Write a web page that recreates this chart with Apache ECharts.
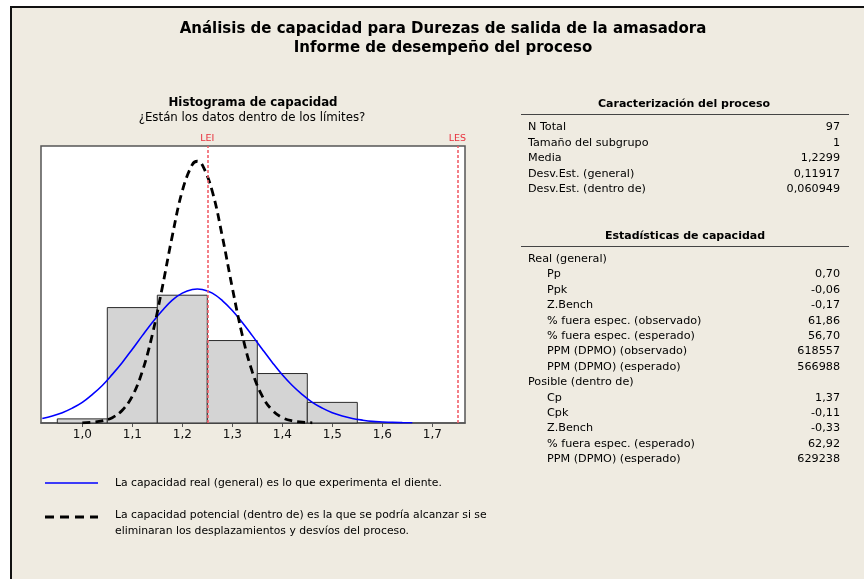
<!DOCTYPE html>
<html>
<head>
<meta charset="utf-8">
<script src="https://cdn.jsdelivr.net/npm/echarts@6/dist/echarts.min.js"></script>
<style>
  html, body { margin: 0; padding: 0; background: #fff; }
  #main { width: 864px; height: 579px; }
</style>
</head>
<body>
<div id="main"></div>
<script>
// histogram bins (start of each bin, width 0.1) and counts
var binStart = [0.95, 1.05, 1.15, 1.25, 1.35, 1.45];
var binCount = [1, 28, 31, 20, 12, 5];
var binWidth = 0.1;

// spec limits
var LEI = 1.25;
var LES = 1.75;

// overall (general) normal curve (count scale)
var generalX = [0.92, 0.94, 0.96, 0.98, 1.00, 1.02, 1.04, 1.06, 1.08, 1.10, 1.12, 1.14, 1.16, 1.18, 1.20, 1.22, 1.23, 1.24, 1.26, 1.28, 1.30, 1.32, 1.34, 1.36, 1.38, 1.40, 1.42, 1.44, 1.46, 1.48, 1.50, 1.52, 1.54, 1.56, 1.58, 1.60, 1.62, 1.64, 1.66];
var generalY = [1.1, 1.7, 2.5, 3.6, 5.0, 6.9, 9.1, 11.8, 14.7, 17.9, 21.2, 24.4, 27.3, 29.8, 31.5, 32.4, 32.5, 32.4, 31.5, 29.7, 27.3, 24.4, 21.2, 17.9, 14.7, 11.7, 9.1, 6.9, 5.0, 3.6, 2.5, 1.7, 1.1, 0.7, 0.4, 0.26, 0.15, 0.09, 0.05];

// within normal curve
var withinX = [1.00, 1.02, 1.04, 1.06, 1.08, 1.10, 1.12, 1.14, 1.16, 1.18, 1.20, 1.22, 1.23, 1.24, 1.26, 1.28, 1.30, 1.32, 1.34, 1.36, 1.38, 1.40, 1.42, 1.44, 1.46];
var withinY = [0.05, 0.2, 0.5, 1.3, 3.1, 6.5, 12.5, 21.4, 32.9, 45.4, 56.3, 62.7, 63.5, 62.6, 56.2, 45.3, 32.8, 21.3, 12.4, 6.5, 3.1, 1.3, 0.5, 0.2, 0.05];

var xTicks = [1.0, 1.1, 1.2, 1.3, 1.4, 1.5, 1.6, 1.7];

// tables
var caracLabels = ['N Total', 'Tamaño del subgrupo', 'Media', 'Desv.Est. (general)', 'Desv.Est. (dentro de)'];
var caracValues = ['97', '1', '1,2299', '0,11917', '0,060949'];

var capLabels = ['Real (general)', 'Pp', 'Ppk', 'Z.Bench', '% fuera espec. (observado)', '% fuera espec. (esperado)', 'PPM (DPMO) (observado)', 'PPM (DPMO) (esperado)',
                 'Posible (dentro de)', 'Cp', 'Cpk', 'Z.Bench', '% fuera espec. (esperado)', 'PPM (DPMO) (esperado)'];
var capValues = ['', '0,70', '-0,06', '-0,17', '61,86', '56,70', '618557', '566988',
                 '', '1,37', '-0,11', '-0,33', '62,92', '629238'];

var legendTexts = [
  ['La capacidad real (general) es lo que experimenta el diente.'],
  ['La capacidad potencial (dentro de) es la que se podría alcanzar si se', 'eliminaran los desplazamientos y desvíos del proceso.']
];

var FONT = '"DejaVu Sans", Verdana, sans-serif';
var BG = '#EFEBE1';

function pairs(xs, ys) {
  var out = [];
  for (var i = 0; i < xs.length; i++) out.push([xs[i], ys[i]]);
  return out;
}

function txt(x, y, text, size, bold, align) {
  return {
    type: 'text',
    style: {
      x: x, y: y, text: text,
      font: (bold ? 'bold ' : '') + size + 'px ' + FONT,
      fill: '#000',
      textAlign: align || 'left',
      textVerticalAlign: 'middle'
    }
  };
}

var graphics = [
  { type: 'rect', shape: { x: 10, y: 6, width: 854, height: 573 }, style: { fill: BG }, z: -10 },
  { type: 'rect', shape: { x: 10, y: 6, width: 2, height: 573 }, style: { fill: '#111' }, z: -9 },
  { type: 'rect', shape: { x: 10, y: 6, width: 854, height: 2 }, style: { fill: '#111' }, z: -9 },
  txt(443, 29, 'Análisis de capacidad para Durezas de salida de la amasadora', 15, true, 'center'),
  txt(443, 48, 'Informe de desempeño del proceso', 15, true, 'center'),
  txt(253, 103, 'Histograma de capacidad', 11.8, true, 'center'),
  txt(252, 118, '¿Están los datos dentro de los límites?', 11.8, false, 'center'),
  txt(684, 104, 'Caracterización del proceso', 11, true, 'center'),
  { type: 'line', shape: { x1: 521, y1: 114.5, x2: 849, y2: 114.5 }, style: { stroke: '#444', lineWidth: 1 } },
  txt(685, 236, 'Estadísticas de capacidad', 11, true, 'center'),
  { type: 'line', shape: { x1: 521, y1: 246.5, x2: 849, y2: 246.5 }, style: { stroke: '#444', lineWidth: 1 } },
  // legend keys
  { type: 'line', shape: { x1: 45, y1: 483, x2: 98, y2: 483 }, style: { stroke: '#0000FF', lineWidth: 1.5 } },
  { type: 'line', shape: { x1: 45, y1: 517, x2: 98, y2: 517 }, style: { stroke: '#000', lineWidth: 3, lineDash: [9, 6] } }
];

caracLabels.forEach(function (l, i) {
  var y = 127.5 + i * 15.4;
  graphics.push(txt(528, y, l, 11.2, false, 'left'));
  graphics.push(txt(840, y, caracValues[i], 11.2, false, 'right'));
});
capLabels.forEach(function (l, i) {
  var y = 259 + i * 15.4;
  var head = capValues[i] === '';
  graphics.push(txt(head ? 528 : 547, y, l, 11.2, false, 'left'));
  if (!head) graphics.push(txt(840, y, capValues[i], 11.2, false, 'right'));
});
graphics.push(txt(115, 483, legendTexts[0][0], 10.8, false, 'left'));
graphics.push(txt(115, 515, legendTexts[1][0], 10.8, false, 'left'));
graphics.push(txt(115, 531, legendTexts[1][1], 10.8, false, 'left'));

var chart = echarts.init(document.getElementById('main'));
var option = {
  backgroundColor: '#fff',
  animation: false,
  graphic: graphics,
  grid: {
    left: 41, right: 399, top: 146, bottom: 156,
    show: true, backgroundColor: '#fff', borderColor: '#555', borderWidth: 1.5,
    outerBoundsMode: 'none'
  },
  xAxis: {
    type: 'value',
    min: 0.9174, max: 1.7654,
    splitLine: { show: false },
    axisLine: { show: true, lineStyle: { color: '#555', width: 1.5 } },
    axisTick: { show: true, length: 4, customValues: xTicks, lineStyle: { color: '#555' } },
    axisLabel: {
      customValues: xTicks, margin: 6,
      color: '#111', fontFamily: FONT, fontSize: 12,
      formatter: function (v) { return v.toFixed(1).replace('.', ','); }
    }
  },
  yAxis: {
    type: 'value', min: 0, max: 67.2, show: false
  },
  series: [
    {
      type: 'custom',
      data: binStart.map(function (s, i) { return [s, binCount[i]]; }),
      renderItem: function (params, api) {
        var p0 = api.coord([api.value(0), 0]);
        var p1 = api.coord([api.value(0) + binWidth, api.value(1)]);
        return {
          type: 'rect',
          shape: { x: p0[0], y: p1[1], width: p1[0] - p0[0], height: p0[1] - p1[1] },
          style: { fill: '#D4D4D4', stroke: '#2a2a2a', lineWidth: 1 }
        };
      },
      z: 1
    },
    {
      type: 'line',
      data: pairs(generalX, generalY),
      smooth: 0.4, symbol: 'none',
      lineStyle: { color: '#0000FF', width: 1.6 },
      z: 3
    },
    {
      type: 'line',
      data: pairs(withinX, withinY),
      smooth: 0.4, symbol: 'none',
      lineStyle: { color: '#000', width: 2.8, type: [8, 5] },
      z: 4
    },
    {
      type: 'line',
      data: [],
      z: 5,
      markLine: {
        symbol: 'none', silent: true,
        lineStyle: { color: '#F0606A', type: [3, 2], width: 1.6, opacity: 1 },
        label: { position: 'end', color: '#E8303C', fontFamily: FONT, fontSize: 9.5, distance: 2, formatter: '{b}' },
        emphasis: { disabled: true },
        data: [{ xAxis: LEI, name: 'LEI' }, { xAxis: LES, name: 'LES' }]
      }
    }
  ]
};
chart.setOption(option);
</script>
</body>
</html>
